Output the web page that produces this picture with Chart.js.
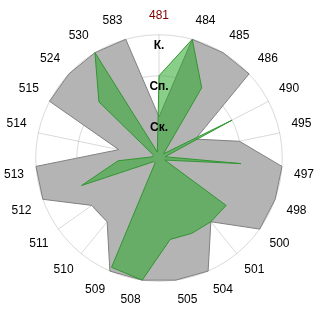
<!DOCTYPE html>
<html>
<head>
<meta charset="utf-8">
<script src="https://cdn.jsdelivr.net/npm/chart.js@4"></script>
<style>
  html, body { margin: 0; padding: 0; background: #fff; }
</style>
</head>
<body>
<canvas id="myChart" width="320" height="320"></canvas>
<script>
const labels = ['481', '484', '485', '486', '490', '495', '497', '498', '500', '501', '504', '505',
                '508', '509', '510', '511', '512', '513', '514', '515', '524', '530', '583']
const levelNames = ['', 'Ск.', 'Сп.', 'К.']
const grayValues = [1, 3, 3, 3, 1, 2, 3, 3, 3, 2, 3, 3, 3, 3, 2, 2, 3, 3, 1, 3, 3, 3, 3]
const greenValues = [2, 3, 2, 0.15, 2, 0.15, 2, 0.15, 2, 2, 2, 2, 3, 2.9, 0.15, 0.15, 2, 1, 0.15, 0.15, 2, 3, 0.15]
const selected = '481'

Chart.defaults.font.family = "'Liberation Sans', Arial, sans-serif"

var ctx = document.getElementById('myChart')

var data = {
  labels: labels,
  datasets: [
    {
      data: greenValues,
      backgroundColor: 'rgba(40,165,40,0.55)',
      borderColor: 'rgb(50,150,50)',
      borderWidth: 1,
      pointRadius: 0,
      order: 1
    },
    {
      data: grayValues,
      backgroundColor: '#b4b4b4',
      borderColor: '#808080',
      borderWidth: 1,
      pointRadius: 0,
      order: 2
    }
  ]
}

var options = {
  responsive: false,
  animation: false,
  layout: { padding: { top: 4, bottom: 8, left: 5, right: 5 } },
  plugins: { legend: { display: false }, tooltip: { enabled: false } },
  scales: {
    r: {
      min: 0,
      max: 3,
      grid: { circular: true, color: 'rgba(0,0,0,0.15)' },
      angleLines: { color: 'rgba(0,0,0,0.15)' },
      pointLabels: {
        font: { size: 12 },
        padding: 4,
        color: c => labels[c.index] === selected ? '#800000' : '#000'
      },
      ticks: {
        z: 1,
        stepSize: 1,
        showLabelBackdrop: false,
        color: '#000',
        font: { size: 12, weight: 'bold', lineHeight: 0.9 },
        callback: v => ['', levelNames[v]]
      }
    }
  }
}

new Chart(ctx, { type: 'radar', data: data, options: options })
</script>
</body>
</html>
